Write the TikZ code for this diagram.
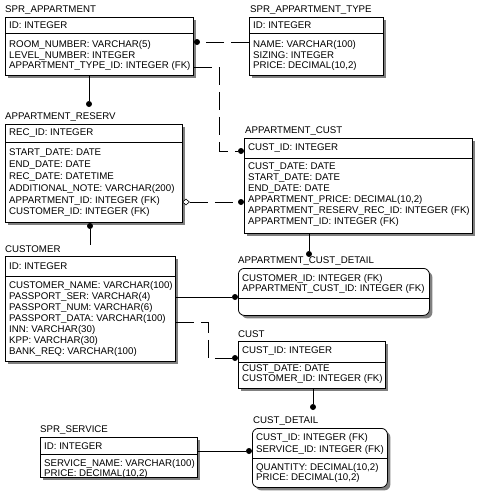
\documentclass[tikz,border=0pt]{standalone}
\usepackage{fontspec}
\setmainfont{Liberation Sans}
\usetikzlibrary{positioning,shapes.geometric,shadows}
\newcommand{\erfont}{\fontsize{9.7}{10.5}\selectfont}

\begin{document}
\begin{tikzpicture}[x=1pt, y=-1pt,
    ent/.style={draw, fill=white, line width=0.8pt, inner sep=0, anchor=north west,
                drop shadow={shadow xshift=3pt, shadow yshift=-3pt, fill=black!50, opacity=1}},
    dep/.style={ent, rounded corners=6pt},
    etitle/.style={font=\erfont, inner sep=0, anchor=west},
    txt/.style={font=\erfont, align=left, inner xsep=4pt, inner ysep=0, anchor=west},
    sepline/.style={line width=0.8pt},
    rel/.style={line width=0.8pt},
    nonid/.style={rel, dash pattern=on 18pt off 7pt},
    dot/.style={circle, fill, inner sep=0, minimum size=6pt},
    opt/.style={diamond, draw, fill=white, inner sep=0, minimum width=7pt,
                minimum height=6pt, line width=0.6pt}
]
\useasboundingbox (0,0) rectangle (478,491);

% SPR_APPARTMENT
\node[ent, minimum width=188pt, minimum height=58pt] (sprapp) at (5,17) {};
\node[etitle] (sprapptitle) at (5,10) {SPR\_APPARTMENT};
\draw[sepline] (sprapp.west |- 0,33) -- (sprapp.east |- 0,33);
\node[txt] (sprappkey) at (5,25) {ID: INTEGER};
\node[txt] (sprappattr) at (5,55.5) {ROOM\_NUMBER: VARCHAR(5)\\LEVEL\_NUMBER: INTEGER\\APPARTMENT\_TYPE\_ID: INTEGER (FK)};

% SPR_APPARTMENT_TYPE
\node[ent, minimum width=134pt, minimum height=58pt] (sprtype) at (249,17) {};
\node[etitle] (sprtypetitle) at (250,10) {SPR\_APPARTMENT\_TYPE};
\draw[sepline] (sprtype.west |- 0,33) -- (sprtype.east |- 0,33);
\node[txt] (sprtypekey) at (249,25) {ID: INTEGER};
\node[txt] (sprtypeattr) at (249,55.5) {NAME: VARCHAR(100)\\SIZING: INTEGER\\PRICE: DECIMAL(10,2)};

% APPARTMENT_RESERV
\node[ent, minimum width=177pt, minimum height=98pt] (reserv) at (5,124) {};
\node[etitle] (reservtitle) at (5,117) {APPARTMENT\_RESERV};
\draw[sepline] (reserv.west |- 0,142) -- (reserv.east |- 0,142);
\node[txt] (reservkey) at (5,133) {REC\_ID: INTEGER};
\node[txt, font=\fontsize{9.7}{11.8}\selectfont] (reservattr) at (5,183) {START\_DATE: DATE\\END\_DATE: DATE\\REC\_DATE: DATETIME\\ADDITIONAL\_NOTE: VARCHAR(200)\\APPARTMENT\_ID: INTEGER (FK)\\CUSTOMER\_ID: INTEGER (FK)};

% APPARTMENT_CUST
\node[ent, minimum width=228pt, minimum height=95pt] (apcust) at (244,138) {};
\node[etitle] (apcusttitle) at (245,131) {APPARTMENT\_CUST};
\draw[sepline] (apcust.west |- 0,158) -- (apcust.east |- 0,158);
\node[txt] (apcustkey) at (244,148) {CUST\_ID: INTEGER};
\node[txt, font=\fontsize{9.7}{11}\selectfont] (apcustattr) at (244,195) {CUST\_DATE: DATE\\START\_DATE: DATE\\END\_DATE: DATE\\APPARTMENT\_PRICE: DECIMAL(10,2)\\APPARTMENT\_RESERV\_REC\_ID: INTEGER (FK)\\APPARTMENT\_ID: INTEGER (FK)};

% CUSTOMER
\node[ent, minimum width=170pt, minimum height=105pt] (customer) at (5,256) {};
\node[etitle] (customertitle) at (5,249) {CUSTOMER};
\draw[sepline] (customer.west |- 0,276) -- (customer.east |- 0,276);
\node[txt] (customerkey) at (5,266) {ID: INTEGER};
\node[txt, font=\fontsize{9.7}{11}\selectfont] (customerattr) at (5,319) {CUSTOMER\_NAME: VARCHAR(100)\\PASSPORT\_SER: VARCHAR(4)\\PASSPORT\_NUM: VARCHAR(6)\\PASSPORT\_DATA: VARCHAR(100)\\INN: VARCHAR(30)\\KPP: VARCHAR(30)\\BANK\_REQ: VARCHAR(100)};

% APPARTMENT_CUST_DETAIL
\node[dep, minimum width=191pt, minimum height=47pt] (apdetail) at (238,268) {};
\node[etitle] (apdetailtitle) at (238,261) {APPARTMENT\_CUST\_DETAIL};
\draw[sepline] (apdetail.west |- 0,298) -- (apdetail.east |- 0,298);
\node[txt] (apdetailkey) at (238,284) {CUSTOMER\_ID: INTEGER (FK)\\APPARTMENT\_CUST\_ID: INTEGER (FK)};

% CUST
\node[ent, minimum width=147pt, minimum height=47pt] (cust) at (238,341) {};
\node[etitle] (custtitle) at (238,334) {CUST};
\draw[sepline] (cust.west |- 0,362) -- (cust.east |- 0,362);
\node[txt] (custkey) at (238,351) {CUST\_ID: INTEGER};
\node[txt] (custattr) at (238,374) {CUST\_DATE: DATE\\CUSTOMER\_ID: INTEGER (FK)};

% CUST_DETAIL
\node[dep, minimum width=135pt, minimum height=59pt] (custdetail) at (252,428) {};
\node[etitle] (custdetailtitle) at (253,421) {CUST\_DETAIL};
\draw[sepline] (custdetail.west |- 0,458) -- (custdetail.east |- 0,458);
\node[txt, font=\fontsize{9.7}{12}\selectfont] (custdetailkey) at (252,443.5) {CUST\_ID: INTEGER (FK)\\SERVICE\_ID: INTEGER (FK)};
\node[txt] (custdetailattr) at (252,473) {QUANTITY: DECIMAL(10,2)\\PRICE: DECIMAL(10,2)};

% SPR_SERVICE
\node[ent, minimum width=157pt, minimum height=40pt] (sprsvc) at (40,437) {};
\node[etitle] (sprsvctitle) at (40,430) {SPR\_SERVICE};
\draw[sepline] (sprsvc.west |- 0,454) -- (sprsvc.east |- 0,454);
\node[txt] (sprsvckey) at (40,446) {ID: INTEGER};
\node[txt] (sprsvcattr) at (40,469) {SERVICE\_NAME: VARCHAR(100)\\PRICE: DECIMAL(10,2)};

% relationships
\node[dot] (d1) at (197,42) {};
\draw[nonid] (sprtype.west |- d1) -- (d1);

\node[dot] (d2) at (241,151) {};
\draw[nonid] (sprapp.east |- 0,67) -| (219,151) -- (d2);

\node[dot] (d3) at (89,104) {};
\draw[rel] (sprapp.south -| d3) -- (d3);

\node[dot] (d4) at (90,226) {};
\draw[rel] (d4) -- (d4 |- customertitle.north);

\node[opt] (o5) at (186,202) {};
\node[dot] (d5) at (241,202) {};
\draw[nonid] (o5) -- (d5);

\node[dot] (d6) at (309,254) {};
\draw[rel] (apcust.south -| d6) -- (d6);

\node[dot] (d7) at (235,297) {};
\draw[rel] (customer.east |- d7) -- (d7);

\node[dot] (d8) at (235,358) {};
\draw[nonid] (customer.east |- 0,322) -| (208,358) -- (d8);

\node[dot] (d9) at (313,407) {};
\draw[rel] (cust.south -| d9) -- (d9);

\node[dot] (d10) at (249,451) {};
\draw[rel] (sprsvc.east |- d10) -- (d10);
\end{tikzpicture}
\end{document}
